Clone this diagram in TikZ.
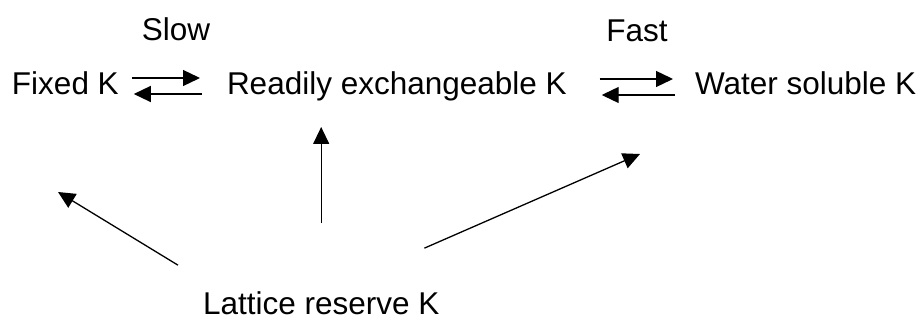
\documentclass[tikz,border=0pt]{standalone}
\usepackage{fontspec}
\setmainfont{Liberation Sans}
\usetikzlibrary{arrows.meta,calc}
\begin{document}
\begin{tikzpicture}[x=1pt,y=-1pt,
  lbl/.style={font=\fontsize{31.5pt}{38pt}\selectfont, inner sep=0pt, outer sep=0pt},
  conn/.style={line width=1.3pt, -{Triangle[length=17pt,width=16pt]}}]
\useasboundingbox (0,0) rectangle (923,320);
\node[lbl, anchor=base] (slow) at (176,41) {Slow};
\node[lbl, anchor=base] (fast) at (637,42) {Fast};
\node[lbl, anchor=base west] (fk) at (12,95) {Fixed K};
\node[lbl, anchor=base west] (re) at (227,95) {Readily exchangeable K};
\node[lbl, anchor=base west] (ws) at (695,95) {Water soluble K};
\node[lbl, anchor=base west] (lr) at (203,314) {Lattice reserve K};
% slow equilibrium
\draw[conn] ($(fk.base east)+(13,-17)$) -- ($(re.base west)+(-27,-17)$);
\draw[conn] ($(re.base west)+(-25,-1)$) -- ($(fk.base east)+(15,-1)$);
% fast equilibrium
\draw[conn] ($(re.base east)+(33,-16)$) -- ($(ws.base west)+(-22,-16)$);
\draw[conn] ($(ws.base west)+(-20,0)$) -- ($(re.base east)+(35,0)$);
% from lattice reserve
\draw[conn] ($(lr.north)+(0,-68)$) -- ($(lr.north |- re.base)+(0,32)$);
\draw[conn] ($(lr.north west)+(-25,-26)$) -- ($(fk.base west)+(46,97)$);
\draw[conn] ($(lr.north east)+(-15,-43)$) -- ($(ws.base west)+(-55,59)$);
\end{tikzpicture}
\end{document}
